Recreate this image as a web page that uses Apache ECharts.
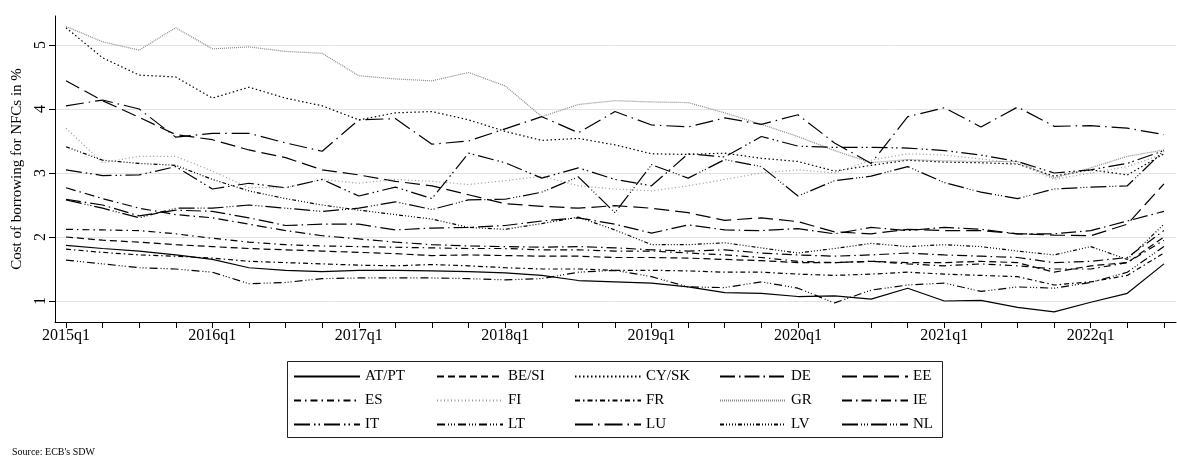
<!DOCTYPE html>
<html>
<head>
<meta charset="utf-8">
<script src="https://cdn.jsdelivr.net/npm/echarts@6/dist/echarts.min.js"></script>
<style>
  html, body { margin: 0; padding: 0; background: #fff; }
  #Dom1 { width: 1177px; height: 466px; }
</style>
</head>
<body>
<div id="Dom1"></div>
<script>
// quarters on the x axis
const quarters = ['2015q1','2015q2','2015q3','2015q4','2016q1','2016q2','2016q3','2016q4',
  '2017q1','2017q2','2017q3','2017q4','2018q1','2018q2','2018q3','2018q4',
  '2019q1','2019q2','2019q3','2019q4','2020q1','2020q2','2020q3','2020q4',
  '2021q1','2021q2','2021q3','2021q4','2022q1','2022q2','2022q3']
const yearTicks = ['2015q1','2016q1','2017q1','2018q1','2019q1','2020q1','2021q1','2022q1']
const yTicks = [1, 2, 3, 4, 5]

// cost of borrowing for NFCs, %
const atpt = [1.87,1.82,1.78,1.72,1.65,1.52,1.48,1.46,1.48,1.48,1.47,1.46,1.44,1.40,1.32,1.30,1.28,1.22,1.13,1.12,1.07,1.08,1.03,1.20,1.00,1.01,0.90,0.83,0.98,1.12,1.58]
const besi = [2.00,1.95,1.92,1.88,1.85,1.82,1.80,1.78,1.76,1.74,1.71,1.72,1.71,1.70,1.70,1.68,1.68,1.67,1.65,1.63,1.60,1.60,1.62,1.60,1.60,1.62,1.60,1.45,1.55,1.60,2.00]
const cysk = [5.27,4.80,4.53,4.50,4.17,4.34,4.17,4.05,3.83,3.94,3.96,3.83,3.65,3.51,3.54,3.44,3.30,3.29,3.31,3.23,3.18,3.03,3.12,3.20,3.17,3.16,3.14,2.95,3.05,2.97,3.30]
const de   = [2.59,2.50,2.33,2.42,2.40,2.30,2.18,2.20,2.20,2.11,2.14,2.15,2.18,2.25,2.30,2.20,2.06,2.19,2.11,2.10,2.13,2.05,2.15,2.10,2.15,2.12,2.05,2.05,2.10,2.25,2.40]
const ee   = [4.44,4.13,3.87,3.60,3.52,3.36,3.24,3.05,2.97,2.87,2.80,2.66,2.52,2.48,2.45,2.49,2.45,2.38,2.26,2.30,2.24,2.08,2.05,2.12,2.10,2.10,2.05,2.03,2.02,2.20,2.83]
const es   = [2.12,2.11,2.10,2.05,1.98,1.92,1.88,1.86,1.85,1.84,1.83,1.82,1.82,1.80,1.80,1.78,1.78,1.75,1.72,1.68,1.62,1.60,1.62,1.58,1.55,1.58,1.55,1.50,1.50,1.60,1.95]
const fi   = [3.70,3.16,3.26,3.26,3.03,2.77,2.77,2.90,2.84,2.90,2.87,2.82,2.88,2.95,2.80,2.75,2.72,2.80,2.90,3.00,3.05,3.00,3.20,3.30,3.28,3.22,3.15,2.90,3.00,3.10,3.30]
const fr   = [1.81,1.76,1.72,1.70,1.67,1.62,1.60,1.58,1.56,1.55,1.57,1.55,1.52,1.50,1.50,1.48,1.48,1.47,1.45,1.45,1.42,1.40,1.42,1.45,1.42,1.40,1.38,1.25,1.30,1.40,1.75]
const gr   = [5.29,5.05,4.92,5.27,4.94,4.97,4.90,4.87,4.52,4.47,4.44,4.57,4.36,3.88,4.07,4.13,4.11,4.10,3.94,3.76,3.57,3.35,3.16,3.21,3.19,3.18,3.18,2.92,3.08,3.26,3.36]
const ie   = [2.77,2.60,2.45,2.35,2.30,2.20,2.10,2.02,1.97,1.92,1.88,1.86,1.85,1.84,1.85,1.83,1.80,1.78,1.80,1.75,1.72,1.70,1.72,1.75,1.72,1.70,1.68,1.60,1.62,1.68,2.10]
const it   = [3.05,2.96,2.97,3.10,2.75,2.84,2.77,2.90,2.64,2.78,2.60,3.31,3.16,2.92,3.08,2.90,2.80,3.30,3.25,3.57,3.42,3.40,3.40,3.39,3.35,3.28,3.18,3.00,3.05,3.15,3.35]
const lt   = [1.64,1.58,1.52,1.50,1.45,1.27,1.29,1.35,1.36,1.36,1.36,1.35,1.33,1.35,1.45,1.48,1.38,1.22,1.21,1.30,1.20,0.97,1.17,1.25,1.28,1.15,1.22,1.20,1.29,1.45,1.85]
const lu   = [4.05,4.14,4.00,3.56,3.62,3.62,3.47,3.34,3.83,3.85,3.45,3.50,3.69,3.88,3.63,3.96,3.75,3.72,3.86,3.76,3.91,3.47,3.15,3.88,4.02,3.72,4.03,3.73,3.74,3.70,3.60]
const lv   = [3.41,3.20,3.15,3.12,2.90,2.72,2.60,2.50,2.42,2.35,2.28,2.15,2.12,2.21,2.31,2.11,1.88,1.88,1.91,1.83,1.75,1.82,1.90,1.85,1.88,1.85,1.78,1.72,1.85,1.65,2.20]
const nl   = [2.58,2.45,2.30,2.45,2.45,2.50,2.45,2.40,2.45,2.55,2.43,2.58,2.59,2.70,2.94,2.38,3.13,2.92,3.21,3.10,2.64,2.88,2.95,3.10,2.85,2.70,2.60,2.75,2.78,2.80,3.35]

const serif = 'Liberation Serif'

// name, values, dash pattern, colour
const lines = [
  ['AT/PT', atpt, 'solid', '#000'],
  ['BE/SI', besi, [7, 4], '#000'],
  ['CY/SK', cysk, [1.5, 2.5], '#000'],
  ['DE', de, [15, 4, 1.5, 4], '#000'],
  ['EE', ee, [15, 6], '#000'],
  ['ES', es, [7, 4, 1.5, 4], '#000'],
  ['FI', fi, [1, 2.5], '#999'],
  ['FR', fr, [5, 3, 1.5, 3], '#000'],
  ['GR', gr, [1, 1], '#888'],
  ['IE', ie, [10, 4, 1.5, 4], '#000'],
  ['IT', it, [16, 4, 1.5, 3, 1.5, 4], '#000'],
  ['LT', lt, [8, 3, 1, 2, 1, 2, 1, 3], '#000'],
  ['LU', lu, [18, 5, 1.5, 5], '#000'],
  ['LV', lv, [4, 2, 1, 2, 1, 2, 1, 2, 1, 2], '#000'],
  ['NL', nl, [16, 3, 1, 2, 1, 2, 1, 3], '#000']
]

const series = lines.map(l => ({
  name: l[0],
  type: 'line',
  symbol: 'none',
  silent: true,
  data: l[1].map((v, i) => [i, v]),
  lineStyle: { width: 1.2, type: l[2], color: l[3] },
  itemStyle: { color: l[3] }
}))

// legend columns, 3 rows each (Stata order, row by row)
const legendCols = [293, 436, 574, 719, 841]
const legends = legendCols.map((x, c) => ({
  left: x,
  top: 369,
  orient: 'vertical',
  padding: 0,
  itemWidth: 66,
  itemHeight: 14,
  itemGap: 9,
  selectedMode: false,
  itemStyle: { opacity: 0 },
  data: [lines[c][0], lines[c + 5][0], lines[c + 10][0]],
  textStyle: { fontFamily: serif, fontSize: 15, color: '#000' }
}))

var myChart = echarts.init(document.getElementById('Dom1'))
let options = {
  animation: false,
  backgroundColor: '#fff',
  title: {
    text: "Source: ECB's SDW",
    left: 12,
    top: 447,
    padding: 0,
    textStyle: { fontFamily: serif, fontSize: 10, fontWeight: 'normal', color: '#000' }
  },
  grid: { left: 55, right: 1, top: 16, bottom: 144, outerBoundsMode: 'none' },
  legend: legends,
  graphic: [{
    type: 'rect',
    shape: { x: 287.5, y: 361.5, width: 655, height: 76 },
    style: { fill: 'none', stroke: '#222', lineWidth: 1 }
  }],
  xAxis: {
    type: 'value',
    min: -0.3,
    max: 30.33,
    axisLine: { onZero: false, lineStyle: { color: '#000', width: 1 } },
    axisTick: { customValues: quarters.map((q, i) => i), length: 6, lineStyle: { color: '#000' } },
    axisLabel: {
      customValues: yearTicks.map(t => quarters.indexOf(t)),
      formatter: v => quarters[v],
      fontFamily: serif, fontSize: 16, color: '#000', margin: 6
    },
    splitLine: { show: false }
  },
  yAxis: {
    type: 'value',
    min: 0.672,
    max: 5.453,
    name: 'Cost of borrowing for NFCs in %',
    nameLocation: 'middle',
    nameGap: 30,
    nameTextStyle: { fontFamily: serif, fontSize: 15, color: '#000' },
    axisLine: { show: true, onZero: false, lineStyle: { color: '#000', width: 1 } },
    axisTick: { show: true, customValues: yTicks, length: 6, lineStyle: { color: '#000' } },
    axisLabel: { customValues: yTicks, rotate: 90, fontFamily: serif, fontSize: 16, color: '#000', margin: 6 },
    splitLine: { show: true, lineStyle: { color: '#e3e3e3', width: 1 } }
  },
  series: series
}
myChart.setOption(options)
</script>
</body>
</html>
